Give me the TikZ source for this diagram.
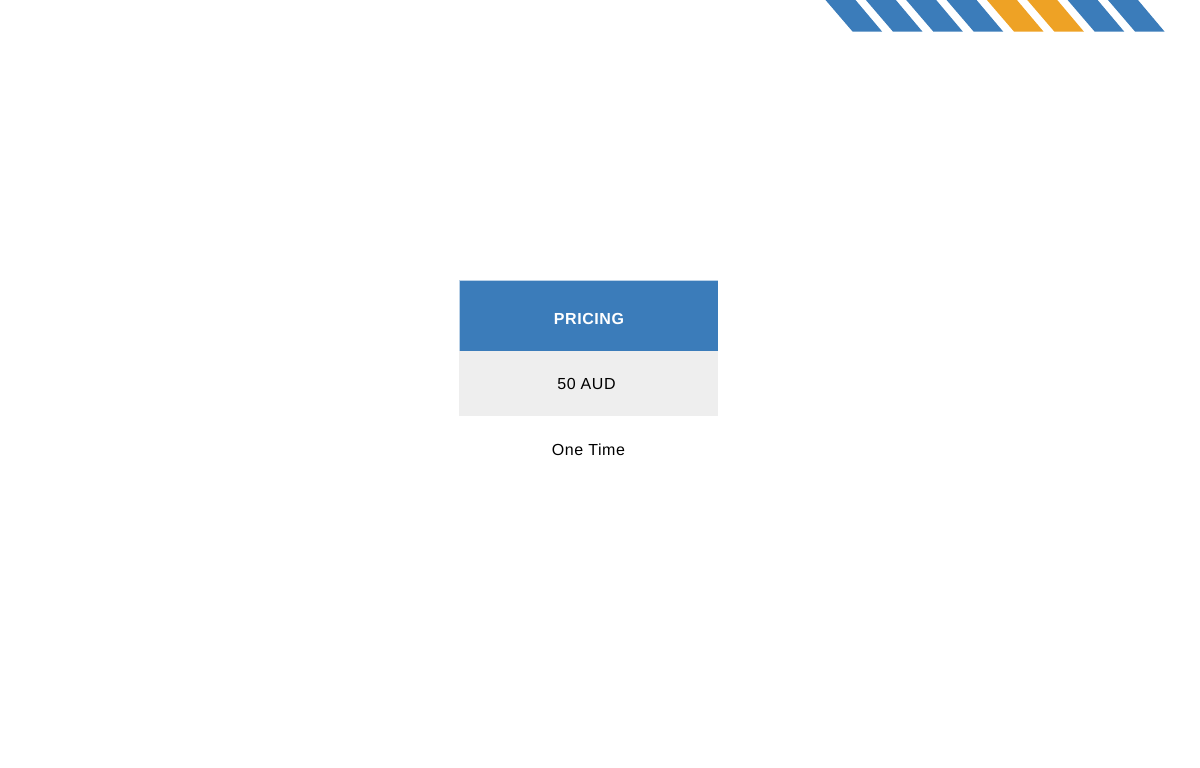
\documentclass[tikz,border=0pt]{standalone}
\usepackage{fontspec}
\setmainfont{Liberation Sans}
\newfontfamily\spacedfont[LetterSpace=3.6]{Liberation Sans}
\definecolor{stripeblue}{HTML}{3B7CBA}
\definecolor{stripeorange}{HTML}{EEA225}
\definecolor{rowgrey}{HTML}{EEEEEE}
\tikzset{
  rowtext/.style={inner sep=0pt,font=\spacedfont\fontsize{16}{16}\selectfont,text=black},
  headtext/.style={inner sep=0pt,font=\spacedfont\bfseries\fontsize{16}{16}\selectfont,text=white}
}
\begin{document}
\begin{tikzpicture}[x=1pt,y=-1pt]
      \useasboundingbox (0, 0) rectangle (1200, 768);

      \foreach \i/\c in {0/stripeblue,1/stripeblue,2/stripeblue,3/stripeblue,4/stripeorange,5/stripeorange,6/stripeblue,7/stripeblue}
        \fill[\c] ({825.5+40.35*\i}, 0) -- ({855.5+40.35*\i}, 0) -- ({882.2+40.35*\i}, 31.7) -- ({852.7+40.35*\i}, 31.7) -- cycle;

      \draw[stripeblue!35,line width=0.6pt] (459.4, 359) -- (459.4, 280.5) -- (718, 280.5);
      \fill[stripeblue] (459.7, 280.8) rectangle (718, 351);
      \fill[rowgrey] (459.2, 351) rectangle (718, 416);

      \node[headtext] (pricing) at (589, 318.5) {PRICING};
      \node[rowtext] (amount) at (586.5, 383.5) {50 AUD};
      \node[rowtext] (period) at (588.5, 449.5) {One Time};
    \end{tikzpicture}
\end{document}
